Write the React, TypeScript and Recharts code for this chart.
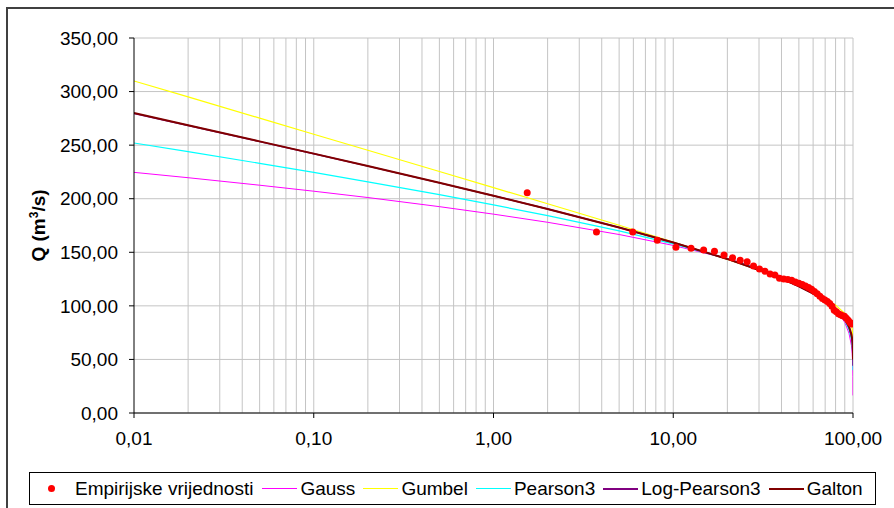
import React from "react";
import {
  CartesianGrid,
  ComposedChart,
  Label,
  Line,
  ReferenceLine,
  Scatter,
  XAxis,
  YAxis,
} from "recharts";

// exceedance probability (%) for the fitted curves
const probabilities = [0.01, 0.02, 0.05, 0.1, 0.2, 0.5, 1, 2, 5, 10, 20, 30, 40, 50, 60, 70, 80, 90, 95, 98, 99, 99.5, 99.9, 99.99];
const gauss = [224.6, 219.6, 212.6, 207.0, 201.1, 192.6, 185.6, 178.0, 166.6, 156.4, 144.1, 135.2, 127.6, 120.5, 113.4, 105.8, 96.9, 84.6, 74.4, 63.0, 55.4, 48.4, 34.0, 16.4];
const gumbel = [309.9, 295.0, 275.2, 260.2, 245.2, 225.4, 210.4, 195.3, 175.2, 159.6, 143.4, 133.3, 125.5, 118.9, 112.9, 107.0, 100.7, 93.0, 87.3, 81.5, 78.0, 75.0, 69.2, 63.0];
const pearson3 = [252, 244, 233, 224.5, 215.8, 203.8, 194.2, 184.2, 170, 157.8, 144, 134.4, 126.5, 119.4, 112.5, 105.3, 97.1, 86.3, 77.8, 68.7, 62.5, 57, 48, 40];
const logPearson3 = [279.6, 268.3, 253.3, 241.9, 230.4, 214.8, 202.7, 190.4, 173.2, 159.2, 143.8, 133.5, 125.4, 118.3, 111.4, 104.6, 97.0, 87.4, 80.0, 72.0, 67.0, 62.5, 54.0, 44.0];
const galton = [280, 268.6, 253.5, 242.1, 230.5, 214.9, 202.8, 190.4, 173.2, 159.2, 143.8, 133.5, 125.4, 118.3, 111.5, 104.8, 97.3, 87.9, 80.8, 73.5, 69.0, 65.1, 57.8, 50.0];

// empirical values
const empiricalP = [1.54, 3.74, 5.95, 8.15, 10.35, 12.56, 14.76, 16.96, 19.16, 21.37, 23.57, 25.77, 27.97, 30.18, 32.38, 34.58, 36.78, 38.99, 41.19, 43.39, 45.59, 47.8, 50.0, 52.2, 54.41, 56.61, 58.81, 61.01, 63.22, 65.42, 67.62, 69.82, 72.03, 74.23, 76.43, 78.63, 80.84, 83.04, 85.24, 87.44, 89.65, 91.85, 94.05, 96.26, 98.46];
const empiricalQ = [205.6, 168.9, 168.9, 161.2, 154.7, 153.7, 152.1, 150.9, 147.5, 145.0, 142.5, 141.2, 137.2, 134.4, 132.3, 129.7, 128.8, 125.7, 125.1, 124.6, 123.8, 122.3, 121.0, 119.9, 118.6, 117.2, 115.4, 113.5, 111.2, 108.9, 106.8, 105.4, 104.0, 102.1, 99.6, 96.0, 94.4, 92.6, 91.6, 90.8, 90.2, 88.5, 86.5, 84.5, 83.0];

const xTicks = [0.01, 0.1, 1, 10, 100];
const yTicks = [0, 50, 100, 150, 200, 250, 300, 350];
const gridX = [
  0.02, 0.03, 0.04, 0.05, 0.06, 0.07, 0.08, 0.09,
  0.1, 0.2, 0.3, 0.4, 0.5, 0.6, 0.7, 0.8, 0.9,
  1, 2, 3, 4, 5, 6, 7, 8, 9,
  10, 20, 30, 40, 50, 60, 70, 80, 90, 100,
];

const series = [
  { key: "gauss", name: "Gauss", color: "#ff00ff", width: 1 },
  { key: "gumbel", name: "Gumbel", color: "#ffff00", width: 1.2 },
  { key: "pearson3", name: "Pearson3", color: "#00ffff", width: 1.2 },
  { key: "logPearson3", name: "Log-Pearson3", color: "#800080", width: 1.5 },
  { key: "galton", name: "Galton", color: "#800000", width: 2 },
];

const curveRows = probabilities.map((p, i) => ({
  p,
  gauss: gauss[i],
  gumbel: gumbel[i],
  pearson3: pearson3[i],
  logPearson3: logPearson3[i],
  galton: galton[i],
}));

const empiricalRows = empiricalP.map((p, i) => ({ p, q: empiricalQ[i] }));

const FONT = "'Liberation Sans', Arial, sans-serif";
const fmt = (v: number) => v.toFixed(2).replace(".", ",");

function YTitle(props: any) {
  const vb = props.viewBox || { x: 0, y: 38, width: 134, height: 375 };
  const x = vb.x + 45;
  const y = vb.y + vb.height / 2;
  return (
    <text
      x={x}
      y={y}
      transform={`rotate(-90, ${x}, ${y})`}
      textAnchor="middle"
      fontFamily={FONT}
      fontSize={19}
      fontWeight="bold"
      fill="#000"
    >
      Q (m
      <tspan dy={-7} fontSize={12}>3</tspan>
      <tspan dy={7}>/s)</tspan>
    </text>
  );
}

const dot = (props: any) => (
  <circle cx={props.cx} cy={props.cy} r={3.5} fill="#ff0000" />
);

function ChartLegend() {
  return (
    <div
      style={{
        position: "absolute",
        left: 29,
        top: 472,
        width: 845,
        height: 31,
        border: "1px solid #000",
        background: "#fff",
        display: "flex",
        alignItems: "center",
        fontFamily: FONT,
        fontSize: 19,
        color: "#000",
        whiteSpace: "nowrap",
      }}
    >
      <span
        style={{
          display: "inline-block",
          width: 7,
          height: 7,
          borderRadius: 4,
          background: "#ff0000",
          marginLeft: 18,
          marginRight: 20,
        }}
      />
      <span style={{ marginRight: 9 }}>Empirijske vrijednosti</span>
      {series.map((s) => (
        <React.Fragment key={s.key}>
          <span
            style={{
              display: "inline-block",
              width: 35,
              height: s.width >= 1.5 ? 2 : 1,
              background: s.color,
              marginRight: 3,
            }}
          />
          <span style={{ marginRight: 8 }}>{s.name}</span>
        </React.Fragment>
      ))}
    </div>
  );
}

export default function App() {
  return (
    <div
      style={{
        position: "absolute",
        left: 0,
        top: 0,
        width: 894,
        height: 508,
        overflow: "hidden",
        background: "#fff",
      }}
    >
      <div
        style={{
          position: "absolute",
          left: 6,
          top: 7,
          width: 900,
          height: 520,
          borderTop: "2px solid #404040",
          borderLeft: "2px solid #404040",
        }}
      />
      <div style={{ position: "absolute", left: 0, top: 0 }}>
        <ComposedChart
          width={894}
          height={508}
          data={curveRows}
          margin={{ top: 38, right: 41, bottom: 0, left: 0 }}
        >
          <CartesianGrid vertical={false} stroke="#c4c4c4" />
          {gridX.map((v) => (
            <ReferenceLine key={v} x={v} stroke="#c4c4c4" />
          ))}
          <XAxis
            dataKey="p"
            type="number"
            scale="log"
            domain={[0.01, 100]}
            allowDataOverflow
            ticks={xTicks}
            tickFormatter={fmt}
            height={95}
            stroke="#000"
            tickSize={5}
            tickMargin={14}
            tick={{ fill: "#000", fontSize: 19, fontFamily: FONT }}
          />
          <YAxis
            type="number"
            domain={[0, 350]}
            ticks={yTicks}
            tickFormatter={fmt}
            width={134}
            stroke="#000"
            tickSize={5}
            tickMargin={11}
            tick={{ fill: "#000", fontSize: 19, fontFamily: FONT }}
          >
            <Label content={<YTitle />} />
          </YAxis>
          {series.map((s) => (
            <Line
              key={s.key}
              type="linear"
              dataKey={s.key}
              name={s.name}
              stroke={s.color}
              strokeWidth={s.width}
              dot={false}
              isAnimationActive={false}
            />
          ))}
          <Scatter
            data={empiricalRows}
            dataKey="q"
            name="Empirijske vrijednosti"
            shape={dot}
            isAnimationActive={false}
          />
        </ComposedChart>
      </div>
      <ChartLegend />
    </div>
  );
}
